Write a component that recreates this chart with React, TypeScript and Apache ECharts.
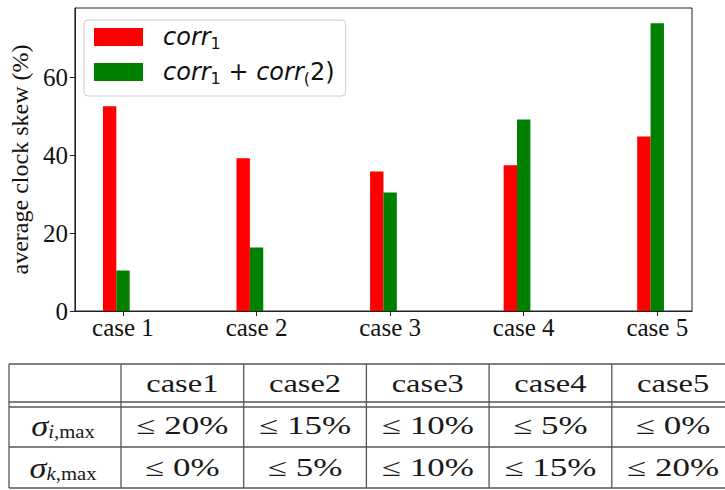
import React, { useEffect, useRef } from "react";
import * as echarts from "echarts";

const categories = ["case 1", "case 2", "case 3", "case 4", "case 5"];
const corr1Values = [52.6, 39.2, 35.8, 37.4, 44.8];
const corr12Values = [10.4, 16.3, 30.4, 49.2, 73.9];
const yTickValues = [0, 20, 40, 60];
const seriesNames = ["corr1", "corr1+corr(2)"];
const tableHeader = ["case1", "case2", "case3", "case4", "case5"];
const sigmaIMax = ["≤ 20%", "≤ 15%", "≤ 10%", "≤ 5%", "≤ 0%"];
const sigmaKMax = ["≤ 0%", "≤ 5%", "≤ 10%", "≤ 15%", "≤ 20%"];
const rowLabelSubs = ["i", "k"];

const SERIF = "Liberation Serif";
const SANS = "DejaVu Sans";

function buildTable(): any[] {
  const left = 9;
  const firstW = 112;
  const colW = 122.7;
  const top = 364;
  const headBottom = 402;
  const headBottom2 = 407;
  const row1Bottom = 447;
  const bottom = 488;
  const right = 760;
  const stroke = { stroke: "#555", lineWidth: 1.3 };
  const els: any[] = [];
  [top, headBottom, headBottom2, row1Bottom, bottom].forEach((y) => {
    els.push({ type: "line", shape: { x1: left, y1: y, x2: right, y2: y }, style: stroke, silent: true });
  });
  const colX: number[] = [left, left + firstW];
  for (let i = 1; i <= 5; i++) colX.push(left + firstW + colW * i);
  colX.forEach((x) => {
    els.push({ type: "line", shape: { x1: x, y1: top, x2: x, y2: bottom }, style: stroke, silent: true });
  });
  const cellCx = (i: number) => left + firstW + colW * i + colW / 2;
  const rowsCy = [(top + headBottom) / 2, (headBottom2 + row1Bottom) / 2 - 1, (row1Bottom + bottom) / 2];
  const textStyle = (t: string) => ({
    text: t,
    fontFamily: SERIF,
    fontSize: 25,
    fill: "#1a1a1a",
    align: "center",
    verticalAlign: "middle",
  });
  tableHeader.forEach((t, i) => {
    els.push({ type: "text", x: cellCx(i), y: rowsCy[0], scaleX: 1.3, style: textStyle(t), silent: true });
  });
  [sigmaIMax, sigmaKMax].forEach((row, r) => {
    row.forEach((t, i) => {
      els.push({ type: "text", x: cellCx(i), y: rowsCy[r + 1], scaleX: 1.4, style: textStyle(t), silent: true });
    });
    els.push({
      type: "text",
      x: 63,
      y: rowsCy[r + 1],
      scaleX: 1.15,
      style: {
        text: `{s|σ}{a|${rowLabelSubs[r]}}{b|,max}`,
        align: "center",
        verticalAlign: "middle",
        fill: "#1a1a1a",
        rich: {
          s: { fontFamily: SERIF, fontStyle: "italic", fontSize: 30, lineHeight: 30, verticalAlign: "middle", fill: "#1a1a1a" },
          a: { fontFamily: SERIF, fontStyle: "italic", fontSize: 18, lineHeight: 14, verticalAlign: "bottom", fill: "#1a1a1a" },
          b: { fontFamily: SERIF, fontSize: 18, lineHeight: 14, verticalAlign: "bottom", fill: "#1a1a1a" },
        },
      },
      silent: true,
    });
  });
  return els;
}

export default function App() {
  const ref = useRef<HTMLDivElement>(null);
  useEffect(() => {
    document.body.style.margin = "0";
    if (!ref.current) return;
    const chart = echarts.init(ref.current, null, { renderer: "svg" });
    const xMin = -0.36;
    const xMax = 4.26;
    const legendRich = {
      g: { width: 15 },
      i: { fontFamily: SANS, fontStyle: "italic", fontSize: 24, lineHeight: 28, verticalAlign: "middle", color: "#111" },
      n: { fontFamily: SANS, fontSize: 24, lineHeight: 28, verticalAlign: "middle", color: "#111" },
      s: { fontFamily: SANS, fontSize: 16, lineHeight: 12, verticalAlign: "bottom", color: "#111" },
    };
    chart.setOption({
      animation: false,
      backgroundColor: "#fff",
      grid: {
        left: 72,
        top: 8,
        width: 620,
        height: 303,
        show: true,
        borderColor: "#222",
        borderWidth: 1,
        backgroundColor: "transparent",
      },
      legend: {
        orient: "vertical",
        left: 84,
        top: 20,
        padding: [5, 11, 10, 10],
        itemGap: 9,
        itemWidth: 49,
        itemHeight: 18,
        icon: "rect",
        borderColor: "#ccc",
        borderWidth: 1,
        borderRadius: 4,
        backgroundColor: "rgba(255,255,255,0.8)",
        data: seriesNames,
        formatter: (name: string) =>
          name === seriesNames[0]
            ? "{g| }{i|corr}{s|1}"
            : "{g| }{i|corr}{s|1}{n| + }{i|corr}{s|(}{n|2)}",
        textStyle: { rich: legendRich },
      },
      xAxis: [
        {
          type: "value",
          min: xMin,
          max: xMax,
          splitLine: { show: false },
          axisLine: { show: true, onZero: false, lineStyle: { color: "#222", width: 1 } },
          axisTick: { show: true, length: 5, lineStyle: { color: "#222" }, customValues: categories.map((_, i) => i) },
          axisLabel: {
            customValues: categories.map((_, i) => i),
            formatter: (v: number) => categories[Math.round(v)] ?? "",
            fontFamily: SERIF,
            fontSize: 25,
            lineHeight: 25,
            color: "#111",
            margin: 4,
          },
        },
        {
          type: "value",
          min: xMin,
          max: xMax,
          show: false,
        },
      ],
      yAxis: {
        type: "value",
        min: 0,
        max: 77.8,
        splitLine: { show: false },
        axisLine: { show: true, onZero: false, lineStyle: { color: "#222", width: 1 } },
        axisTick: { show: true, length: 5, lineStyle: { color: "#222" }, customValues: yTickValues },
        axisLabel: {
          customValues: yTickValues,
          fontFamily: SERIF,
          fontSize: 25,
          color: "#111",
          margin: 7,
        },
        name: "average clock skew (%)",
        nameLocation: "middle",
        nameGap: 32,
        nameTextStyle: { fontFamily: SERIF, fontSize: 24, color: "#111" },
      },
      series: [
        {
          name: seriesNames[0],
          type: "bar",
          xAxisIndex: 1,
          barWidth: 13.4,
          itemStyle: { color: "#ff0000" },
          data: corr1Values.map((v, i) => [i - 0.1, v]),
        },
        {
          name: seriesNames[1],
          type: "bar",
          xAxisIndex: 0,
          barWidth: 13.4,
          itemStyle: { color: "#008000" },
          data: corr12Values.map((v, i) => [i, v]),
        },
      ],
      graphic: buildTable(),
    });
    return () => chart.dispose();
  }, []);
  return <div ref={ref} style={{ width: 725, height: 490 }} />;
}
